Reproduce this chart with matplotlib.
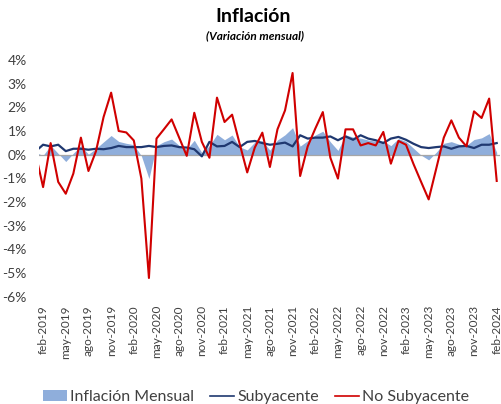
import numpy as np
import matplotlib
matplotlib.use("Agg")
import matplotlib.pyplot as plt
from matplotlib.patches import Patch
from matplotlib.lines import Line2D

plt.rcParams["font.family"] = ["Lato", "DejaVu Sans"]

# monthly values, jan-2019 .. feb-2024 (jan-2019 only partly visible)
months = ["ene", "feb", "mar", "abr", "may", "jun", "jul", "ago", "sep", "oct", "nov", "dic"]
periods = ["ene-2019"] + [f"{months[(m + 1) % 12]}-{2019 + (m + 1) // 12}" for m in range(61)]

inflacion = [0.09, -0.03, 0.39, 0.05, -0.29, 0.06, 0.38, 0.02, 0.26, 0.54, 0.81, 0.56,
             0.48, 0.42, -0.05, -1.01, 0.38, 0.55, 0.66, 0.39, 0.23, 0.61, 0.08, 0.38,
             0.86, 0.63, 0.83, 0.33, 0.20, 0.53, 0.59, 0.19, 0.62, 0.84, 1.14, 0.36,
             0.59, 0.83, 0.99, 0.54, 0.18, 0.84, 0.74, 0.70, 0.62, 0.57, 0.58, 0.38,
             0.68, 0.56, 0.27, -0.02, -0.22, 0.10, 0.48, 0.55, 0.44, 0.39, 0.64, 0.71,
             0.89, 0.09]

subyacente = [0.14, 0.42, 0.35, 0.42, 0.15, 0.25, 0.25, 0.21, 0.25, 0.23, 0.28, 0.37,
              0.32, 0.32, 0.32, 0.37, 0.32, 0.37, 0.39, 0.32, 0.30, 0.23, -0.07, 0.54,
              0.35, 0.37, 0.54, 0.32, 0.54, 0.58, 0.49, 0.42, 0.46, 0.51, 0.35, 0.82,
              0.68, 0.72, 0.72, 0.77, 0.61, 0.77, 0.63, 0.82, 0.68, 0.61, 0.49, 0.68,
              0.75, 0.63, 0.46, 0.32, 0.28, 0.32, 0.35, 0.25, 0.35, 0.37, 0.28, 0.42,
              0.42, 0.49]

no_subyacente = [0.05, -1.37, 0.49, -1.15, -1.65, -0.80, 0.72, -0.69, 0.15, 1.59, 2.62, 1.00,
                 0.94, 0.60, -1.01, -5.21, 0.68, 1.08, 1.49, 0.72, -0.05, 1.77, 0.54, -0.13,
                 2.41, 1.38, 1.69, 0.46, -0.75, 0.30, 0.93, -0.52, 1.07, 1.87, 3.45, -0.90,
                 0.35, 1.10, 1.80, -0.13, -1.01, 1.07, 1.07, 0.39, 0.49, 0.39, 0.96, -0.38,
                 0.58, 0.42, -0.40, -1.15, -1.89, -0.59, 0.72, 1.45, 0.72, 0.35, 1.83, 1.55,
                 2.37, -1.11]

yticks = [4, 3, 2, 1, 0, -1, -2, -3, -4, -5, -6]

c_area = "#8FAEDB"
c_core = "#1F3870"
c_nc = "#D00000"

x = np.arange(len(periods)) - 1

fig = plt.figure(figsize=(5.02, 4.04), dpi=100)
ax = fig.add_axes([0.0783, 0.2656, 0.9187, 0.5859])

ax.fill_between(x, inflacion, 0, color=c_area, linewidth=0)
ax.axhline(0, color="#A6A6A6", linewidth=0.9)
ax.plot(x, subyacente, color=c_core, linewidth=1.6)
ax.plot(x, no_subyacente, color=c_nc, linewidth=1.5)

ax.set_xlim(-0.5, 60.5)
ax.set_ylim(-6, 4)
ax.set_yticks(yticks)
ax.set_yticklabels([f"{v}%" for v in yticks], fontsize=10, color="#404040")
ticks = list(range(0, 61, 3))
ax.set_xticks(ticks)
ax.set_xticklabels([periods[t + 1] for t in ticks], rotation=90, fontsize=8.5, color="#404040")
ax.tick_params(axis="both", length=0)
ax.tick_params(axis="y", pad=9)
ax.tick_params(axis="x", pad=6)
for s in ax.spines.values():
    s.set_visible(False)

fig.text(0.504, 1 - 17 / 404, "Inflación", ha="center", va="center",
         fontsize=14, fontweight="bold")
fig.text(0.507, 1 - 36 / 404, "(Variación mensual)", ha="center", va="center",
         fontsize=8.5, fontweight="bold", style="italic")

handles = [Patch(facecolor=c_area, edgecolor="none"),
           Line2D([], [], color=c_core, linewidth=1.2),
           Line2D([], [], color=c_nc, linewidth=1.2)]
fig.legend(handles, ["Inflación Mensual", "Subyacente", "No Subyacente"],
           loc="center", bbox_to_anchor=(0.51, 1 - 397 / 404), ncol=3, frameon=False,
           fontsize=11.5, handlelength=1.5, handletextpad=0.2, columnspacing=1.0,
           labelcolor="#404040")

fig.savefig("out.png", dpi=100)
